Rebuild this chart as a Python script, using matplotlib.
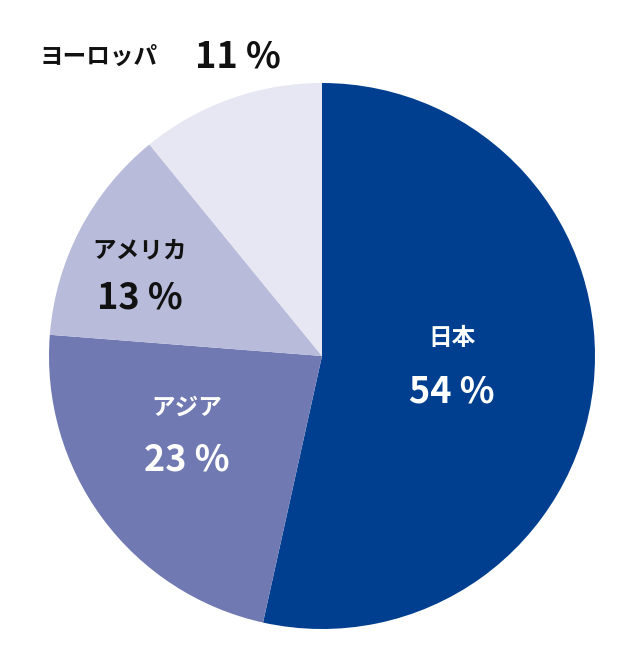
import matplotlib.pyplot as plt

plt.rcParams['font.family'] = ['Noto Sans CJK JP', 'DejaVu Sans']

regions = ['日本', 'アジア', 'アメリカ', 'ヨーロッパ']
shares = [54, 23, 13, 11]
colors = ['#003f8f', '#7079b1', '#b9bbdb', '#e6e7f2']

fig = plt.figure(figsize=(6.34, 6.6), dpi=100)
ax = fig.add_axes([0, 0, 1, 1])
ax.set_xlim(0, 634)
ax.set_ylim(0, 660)
ax.set_aspect('equal')
ax.axis('off')

ax.pie(shares, colors=colors, startangle=90, counterclock=False,
       center=(322, 304), radius=273, frame=True)
ax.set_xlim(0, 634)
ax.set_ylim(0, 660)
ax.axis('off')

# labels inside slices (pixel positions, y from top)
pos = [(452, 338, 392, 'white'), (187, 408, 460, 'white'), (140, 250, 298, '#111111')]
for (x, y1, y2, c), name, v in zip(pos, regions, shares):
    ax.text(x, 660 - y1, name, ha='center', va='center', fontsize=17,
            fontweight='bold', color=c)
    ax.text(x, 660 - y2, f'{v} %', ha='center', va='center', fontsize=26,
            fontweight='bold', color=c)

ax.text(40, 660 - 57, regions[3], ha='left', va='center', fontsize=17,
        fontweight='bold', color='#111111')
ax.text(195, 660 - 57, f'{shares[3]} %', ha='left', va='center', fontsize=26,
        fontweight='bold', color='#111111')

fig.savefig('out.png', dpi=100)
